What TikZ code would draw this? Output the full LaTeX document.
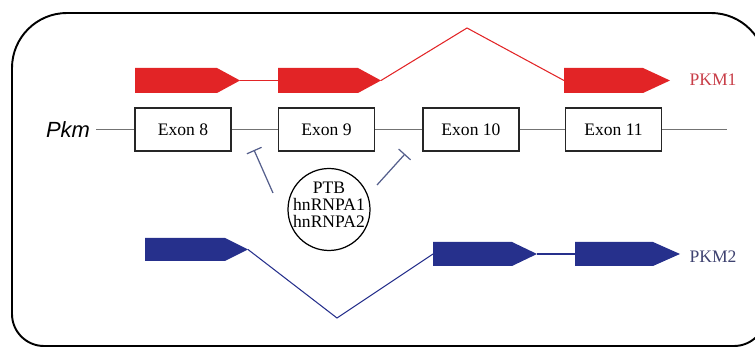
\documentclass[tikz,border=0pt]{standalone}
\usepackage{fontspec}
\setmainfont{Liberation Serif}
\setsansfont{Liberation Sans}
\usetikzlibrary{calc,arrows.meta}
\definecolor{pkmred}{RGB}{226,36,38}
\definecolor{pkmblue}{RGB}{38,48,140}
\definecolor{labred}{RGB}{200,62,72}
\definecolor{labblue}{RGB}{62,66,112}
\definecolor{inhib}{RGB}{85,95,140}
\def\exonbar[#1](#2)(#3)(#4:#5){\fill[#1] ($(#2)+(0,#5)$) -- ($(#3)+(-#4,#5)$) -- (#3) -- ($(#3)+(-#4,-#5)$) -- ($(#2)+(0,-#5)$) -- cycle;}
\tikzset{
  frame/.style={line width=1.1pt, draw=black},
  exonbox/.style={draw=black!85, line width=0.6pt, minimum width=1.92cm, minimum height=0.86cm, inner sep=0pt, font=\fontsize{10}{12}\selectfont},
  geneline/.style={draw=black!55, line width=0.8pt},
  splicea/.style={draw=pkmred, line width=0.6pt},
  spliceb/.style={draw=pkmblue, line width=0.6pt},
  block/.style={draw=inhib, line width=0.7pt, -{Bar[width=0.32cm]}},
  isoform/.style={font=\fontsize{10}{12}\selectfont},
}

\begin{document}
\begin{tikzpicture}[x=0.02cm, y=-0.02cm]
	%%%%% START %%%%%
	\useasboundingbox (0,0) rectangle (755,347);
	
	\draw[frame, rounded corners=1.1cm] (12,200) |- (766,13) -- (766,200);
	\draw[frame, rounded corners=0.64cm] (12,200) |- (766,346) -- (766,200);
	
	% PKM1 (exon 9 kept)
	\coordinate (r8a) at (135,80.5);
	\coordinate (r8b) at (240,80.5);
	\coordinate (r9a) at (278,80.5);
	\coordinate (r9b) at (381,80.5);
	\coordinate (r11a) at (564,80.5);
	\coordinate (r11b) at (670,80.5);
	\coordinate (rtop) at (467,28);
	\exonbar[pkmred](r8a)(r8b)(23:12.5)
	\exonbar[pkmred](r9a)(r9b)(23:12.5)
	\exonbar[pkmred](r11a)(r11b)(27:12.5)
	\draw[splicea] (r8b) -- (r9a);
	\draw[splicea] (r9b) -- (rtop) -- (r11a);
	\node[isoform, text=labred] (pkm1) at (713,80) {PKM1};
	
	% gene
	\node[font=\sffamily\itshape\fontsize{12.5}{14}\selectfont] (pkm) at (68,129.5) {Pkm};
	\node[exonbox] (e8) at (183,129.5) {Exon 8};
	\node[exonbox] (e9) at (326.5,129.5) {Exon 9};
	\node[exonbox] (e10) at (471,129.5) {Exon 10};
	\node[exonbox] (e11) at (613.5,129.5) {Exon 11};
	\coordinate (gend) at (727,129.5);
	\draw[geneline] (pkm.east) -- (e8);
	\draw[geneline] (e8) -- (e9);
	\draw[geneline] (e9) -- (e10);
	\draw[geneline] (e10) -- (e11);
	\draw[geneline] (e11) -- (gend);
	
	% splicing factors
	\node[align=center, inner sep=0pt, font=\fontsize{10}{9.8}\selectfont] (prot) at (329,205) {PTB\\hnRNPA1\\hnRNPA2};
	\draw[line width=0.7pt] (329,209.5) circle[radius=0.82cm];
	\coordinate (ls) at (273,193);
	\coordinate (le) at (254,150);
	\coordinate (rs) at (377,185);
	\coordinate (re) at (405,154);
	\draw[block] (ls) -- (le);
	\draw[block] (rs) -- (re);
	
	% PKM2 (exon 10 kept)
	\coordinate (b8a) at (145,249.5);
	\coordinate (b8b) at (248,249.5);
	\coordinate (b10a) at (433,254);
	\coordinate (b10b) at (537,254);
	\coordinate (b11a) at (575,254);
	\coordinate (b11b) at (680,254);
	\coordinate (bbot) at (337,318);
	\exonbar[pkmblue](b8a)(b8b)(23:11.5)
	\exonbar[pkmblue](b10a)(b10b)(25:12)
	\exonbar[pkmblue](b11a)(b11b)(27:12)
	\draw[spliceb] (b8b) -- (bbot) -- (b10a);
	\draw[spliceb] (b10b) -- (b11a);
	\node[isoform, text=labblue] (pkm2) at (713,257) {PKM2};
	
	%%%%% END %%%%%
\end{tikzpicture}
\end{document}
